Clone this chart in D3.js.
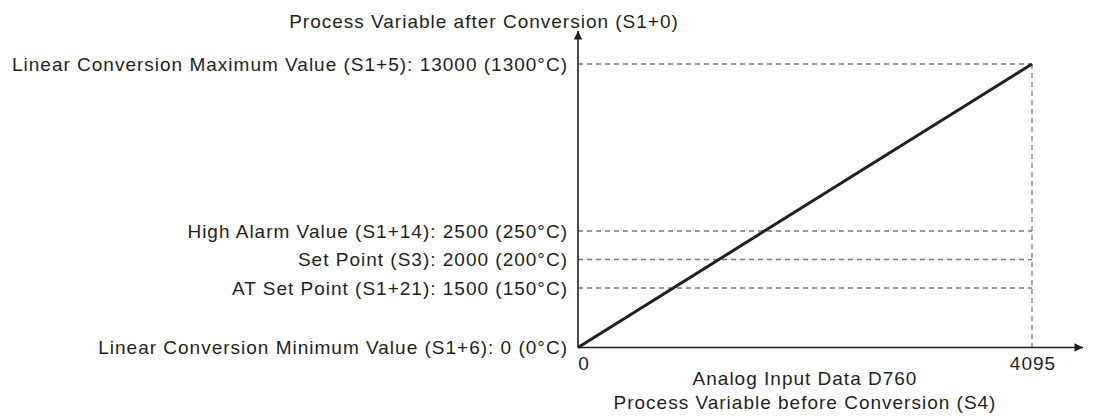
<!DOCTYPE html>
<html>
<head>
<meta charset="utf-8">
<script src="https://cdn.jsdelivr.net/npm/d3@7"></script>
<style>
  html, body { margin: 0; padding: 0; background: #fff; }
  svg text { font-family: "Liberation Sans", Arial, sans-serif; fill: #231f20; letter-spacing: 1px; }
</style>
</head>
<body>
<svg id="chart" width="1093" height="418"></svg>
<script>
// Reference levels on the converted process variable
const levelLabels = [
  "Linear Conversion Maximum Value (S1+5): 13000 (1300°C)",
  "High Alarm Value (S1+14): 2500 (250°C)",
  "Set Point (S3): 2000 (200°C)",
  "AT Set Point (S1+21): 1500 (150°C)",
  "Linear Conversion Minimum Value (S1+6): 0 (0°C)"
];
const levelValues = [13000, 2500, 2000, 1500, 0];

// Conversion line: analog input -> converted value
const inputValues = [0, 4095];
const convertedValues = [0, 13000];

// Input axis tick labels
const xTicks = [0, 4095];

const yTitle = "Process Variable after Conversion (S1+0)";
const xTitleLines = ["Analog Input Data D760", "Process Variable before Conversion (S4)"];

const svg = d3.select("#chart");
const ink = "#231f20";
const dashGrey = "#7a7a7a";

const x0 = 578, xMax = 1032, xEnd = 1083;
const y0 = 347.5, yTop = 31;

const x = d3.scaleLinear().domain([0, 4095]).range([x0, xMax]);
// Schematic (non-uniform) vertical scale so the low levels stay readable
const y = d3.scaleLinear()
  .domain([0, 1500, 2000, 2500, 13000])
  .range([y0, 288, 259.5, 231, 64]);

const defs = svg.append("defs");
defs.append("marker")
  .attr("id", "arrow")
  .attr("viewBox", "0 0 10 10")
  .attr("refX", 10).attr("refY", 5)
  .attr("markerUnits", "userSpaceOnUse")
  .attr("markerWidth", 15).attr("markerHeight", 8.5)
  .attr("orient", "auto")
  .append("path")
  .attr("d", "M0,0 L10,5 L0,10 Z")
  .attr("fill", ink);

// Dashed guides from the vertical axis to the conversion line end
const guides = svg.append("g");
levelValues.forEach(v => {
  if (v === 0) return;
  guides.append("line")
    .attr("x1", x0).attr("x2", x(4095))
    .attr("y1", y(v)).attr("y2", y(v))
    .attr("stroke", dashGrey).attr("stroke-width", 1.3)
    .attr("stroke-dasharray", "5,4");
});
guides.append("line")
  .attr("x1", x(4095)).attr("x2", x(4095))
  .attr("y1", y(13000)).attr("y2", y0)
  .attr("stroke", dashGrey).attr("stroke-width", 1.3)
  .attr("stroke-dasharray", "5,4");

// Axes with arrow heads
svg.append("line")
  .attr("x1", x0).attr("y1", y0).attr("x2", x0).attr("y2", yTop)
  .attr("stroke", ink).attr("stroke-width", 1.6)
  .attr("marker-end", "url(#arrow)");
svg.append("line")
  .attr("x1", x0).attr("y1", y0).attr("x2", xEnd).attr("y2", y0)
  .attr("stroke", ink).attr("stroke-width", 1.6)
  .attr("marker-end", "url(#arrow)");

// Conversion line
const pts = inputValues.map((v, i) => [v, convertedValues[i]]);
svg.append("path")
  .datum(pts)
  .attr("d", d3.line().x(d => x(d[0])).y(d => y(d[1])))
  .attr("fill", "none")
  .attr("stroke", ink)
  .attr("stroke-width", 3);

// Level labels, right-aligned against the vertical axis
const fs = 19;
svg.append("g").selectAll("text")
  .data(levelLabels)
  .join("text")
  .attr("x", 568)
  .attr("y", (d, i) => y(levelValues[i]))
  .attr("dy", "0.35em")
  .attr("text-anchor", "end")
  .attr("font-size", fs)
  .text(d => d);

// Axis titles
svg.append("text")
  .attr("x", 484).attr("y", 28)
  .attr("text-anchor", "middle")
  .attr("font-size", fs)
  .text(yTitle);

svg.append("g").selectAll("text")
  .data(xTitleLines)
  .join("text")
  .attr("x", 805)
  .attr("y", (d, i) => 385 + i * 24)
  .attr("text-anchor", "middle")
  .attr("font-size", fs)
  .text(d => d);

// Input tick labels
svg.append("g").selectAll("text")
  .data(xTicks)
  .join("text")
  .attr("x", d => d === 0 ? x(d) + 6 : x(d) + 1)
  .attr("y", 370)
  .attr("text-anchor", "middle")
  .attr("font-size", fs)
  .text(d => d);
</script>
</body>
</html>
